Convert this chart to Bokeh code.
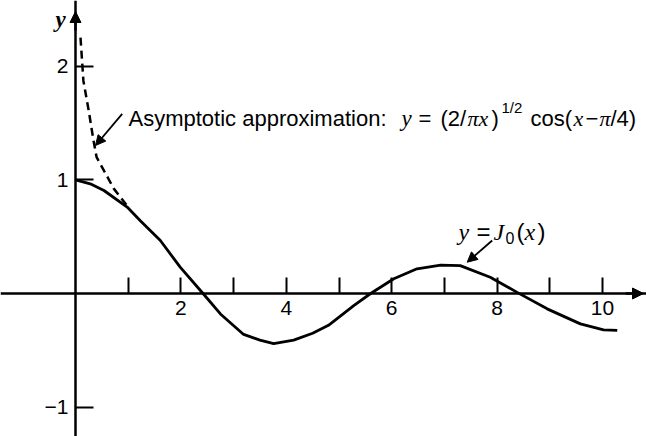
from bokeh.plotting import figure
from bokeh.models import Range1d, FixedTicker, Label, Arrow, NormalHead, LinearAxis
from bokeh.embed import file_html
from bokeh.resources import INLINE

# ---- data ----
j0_x = [0.0, 0.28, 0.54, 0.98, 1.23, 1.61, 1.99, 2.42, 2.75, 3.19, 3.5, 3.76,
        4.14, 4.5, 4.8, 5.28, 5.6, 6.04, 6.48, 6.93, 7.3, 7.87, 8.38, 8.95,
        9.58, 10.02, 10.28]
j0_y = [1.0, 0.965, 0.906, 0.76, 0.64, 0.466, 0.23, 0.0, -0.18, -0.36, -0.41, -0.44,
        -0.41, -0.35, -0.28, -0.106, 0.0, 0.13, 0.217, 0.25, 0.245, 0.143, 0.01, -0.135,
        -0.267, -0.32, -0.325]
asym_x = [0.095, 0.15, 0.25, 0.34, 0.4, 0.54, 0.73, 0.95, 1.0]
asym_y = [2.25, 1.87, 1.61, 1.35, 1.2, 1.08, 0.92, 0.79, 0.76]
x_major_ticks = [2, 4, 6, 8, 10]
x_minor_ticks = [1, 3, 5, 7, 9]
y_ticks = [-1, 1, 2]

# ---- layout helpers (page pixel -> data) ----
def dx(px):
    return (px - 75) / 52.7

def dy(py):
    return (293 - py) / 113.7

SANS = "Liberation Sans"
SERIF = "Liberation Serif"

p = figure(width=646, height=436,
           x_range=Range1d(dx(0), dx(646)), y_range=Range1d(dy(436), dy(0)),
           output_backend="svg", toolbar_location=None,
           x_axis_location=None, y_axis_location=None, min_border=0)
p.grid.visible = False
p.outline_line_color = None
p.background_fill_color = "white"
p.border_fill_color = "white"

xaxis = LinearAxis(fixed_location=0,
                   ticker=FixedTicker(ticks=x_major_ticks, minor_ticks=x_minor_ticks))
xaxis.axis_line_width = 2.5
xaxis.axis_line_color = "black"
xaxis.major_tick_in = 16
xaxis.major_tick_out = 0
xaxis.minor_tick_in = 16
xaxis.minor_tick_out = 0
xaxis.major_tick_line_width = 2
xaxis.minor_tick_line_width = 2
xaxis.major_tick_line_color = "black"
xaxis.minor_tick_line_color = "black"
xaxis.major_label_standoff = 7
xaxis.major_label_text_font = SANS
xaxis.major_label_text_font_size = "21px"
xaxis.major_label_text_color = "black"
p.add_layout(xaxis, "below")

yaxis = LinearAxis(fixed_location=0, ticker=FixedTicker(ticks=y_ticks, minor_ticks=[]))
yaxis.axis_line_width = 2.5
yaxis.axis_line_color = "black"
yaxis.major_tick_in = 18
yaxis.major_tick_out = 0
yaxis.minor_tick_in = 0
yaxis.minor_tick_out = 0
yaxis.major_tick_line_width = 2
yaxis.major_tick_line_color = "black"
yaxis.major_label_standoff = 7
yaxis.major_label_text_font = SANS
yaxis.major_label_text_font_size = "21px"
yaxis.major_label_text_color = "black"
yaxis.major_label_overrides = {-1: "\u22121"}
p.add_layout(yaxis, "left")

# axis arrow heads
p.add_layout(Arrow(end=NormalHead(size=11, fill_color="black", line_color="black"),
                   x_start=dx(625), y_start=0, x_end=dx(643), y_end=0,
                   line_width=2.5, line_color="black"))
p.add_layout(Arrow(end=NormalHead(size=11, fill_color="black", line_color="black"),
                   x_start=0, y_start=dy(30), x_end=0, y_end=dy(11),
                   line_width=2.5, line_color="black"))

# curves
p.line(j0_x, j0_y, line_width=2.8, line_color="black")
p.line(asym_x, asym_y, line_width=2.5, line_color="black", line_dash="8 5")

# annotation arrows
p.add_layout(Arrow(end=NormalHead(size=10, fill_color="black", line_color="black"),
                   x_start=dx(121.7), y_start=dy(113.3), x_end=dx(95), y_end=dy(145),
                   line_width=1.8, line_color="black"))
p.add_layout(Arrow(end=NormalHead(size=10, fill_color="black", line_color="black"),
                   x_start=dx(491.7), y_start=dy(240), x_end=dx(466.7), y_end=dy(261.7),
                   line_width=1.8, line_color="black"))

def lab(text, px, py, font=SANS, size=22, style="normal"):
    p.add_layout(Label(x=dx(px), y=dy(py), text=text, text_font=font,
                       text_font_size=f"{size}px", text_font_style=style,
                       text_color="black", text_baseline="alphabetic",
                       text_align="left"))

# axis label
lab("y", 55, 19, SERIF, 23, "bold italic")

# asymptotic label
base = 118
lab("Asymptotic approximation:", 128, base)
lab("y", 401, base, SERIF, 23, "italic")
lab("=", 418, base)
lab("(2/", 440, base)
lab("\u03c0x", 467, base, SERIF, 22, "italic")
lab(")", 491, base)
lab("1/2", 501, base - 11, SANS, 15)
lab("cos(", 530, base)
lab("x", 573, base, SERIF, 22, "italic")
lab("\u2212", 585, base)
lab("\u03c0", 599, base, SERIF, 22, "italic")
lab("/4)", 610, base)

# J0 label
b2 = 231
lab("y", 458, b2, SERIF, 24, "italic")
lab("=", 476, b2, SANS, 24)
lab("J", 493, b2, SERIF, 24, "italic")
lab("0", 505, b2 + 6, SANS, 16)
lab("(", 516, b2, SANS, 24)
lab("x", 524, b2, SERIF, 24, "italic")
lab(")", 537, b2, SANS, 24)

open("out.html", "w").write(file_html(p, INLINE))
